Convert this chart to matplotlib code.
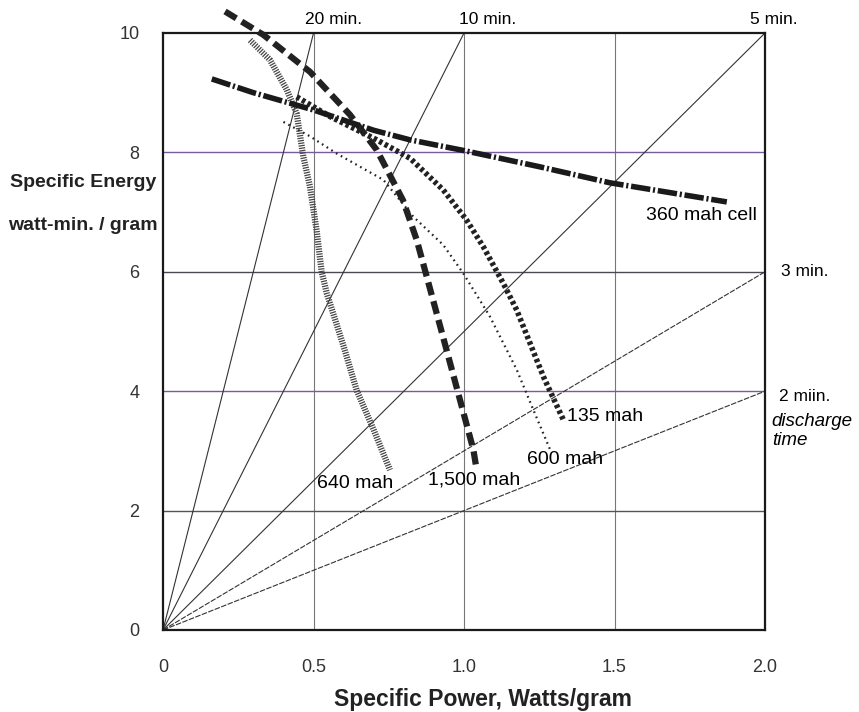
import matplotlib
matplotlib.use("Agg")
import matplotlib.pyplot as plt

plt.rcParams['font.family'] = ['Liberation Sans', 'DejaVu Sans']
plt.rcParams['lines.scale_dashes'] = False

# discharge-time reference lines (minutes), E = P * t
discharge_minutes = [20, 10, 5, 3, 2]
discharge_labels = ["20 min.", "10 min.", "5 min.", "3 min.", "2 miin."]

# cell curves: specific power (W/g) vs specific energy (W-min/g)
cell360_p = [0.162, 0.30, 0.50, 0.70, 0.82, 1.00, 1.25, 1.485, 1.873]
cell360_e = [9.23, 9.00, 8.71, 8.37, 8.21, 8.03, 7.76, 7.49, 7.17]

cell1500_p = [0.206, 0.333, 0.488, 0.621, 0.71, 0.797, 0.843, 0.876, 0.942, 1.031, 1.042]
cell1500_e = [10.36, 9.97, 9.35, 8.63, 8.04, 7.2, 6.53, 5.92, 4.69, 3.02, 2.68]

cell640_p = [0.289, 0.355, 0.411, 0.444, 0.466, 0.488, 0.51, 0.527, 0.544, 0.60, 0.643, 0.70, 0.754]
cell640_e = [9.88, 9.55, 9.05, 8.65, 7.93, 7.43, 6.7, 6.0, 5.64, 4.75, 4.02, 3.35, 2.68]

cell135_p = [0.444, 0.555, 0.71, 0.821, 0.931, 1.008, 1.064, 1.131, 1.175, 1.264, 1.33]
cell135_e = [8.93, 8.6, 8.21, 7.9, 7.37, 6.87, 6.42, 5.8, 5.36, 4.24, 3.52]

cell600_p = [0.40, 0.488, 0.577, 0.732, 0.832, 0.931, 0.998, 1.086, 1.175, 1.23, 1.286]
cell600_e = [8.51, 8.27, 7.98, 7.54, 6.92, 6.45, 5.97, 5.25, 4.36, 3.69, 3.02]

fig = plt.figure(figsize=(8.59, 7.12), dpi=100)
ax = fig.add_axes([0.1898, 0.1152, 0.7008, 0.8385])
ax.set_xlim(0, 2.0)
ax.set_ylim(0, 10)

# grid
for x in [0.5, 1.0, 1.5]:
    ax.axvline(x, color='#777777', lw=0.8, zorder=1)
for y, c in [(2, '#55506a'), (4, '#7a5a9e'), (6, '#4a4a55'), (8, '#7a5a9e')]:
    ax.axhline(y, color=c, lw=1.0, zorder=1)

# discharge time lines
for t in discharge_minutes:
    p_end = min(10.0 / t, 2.0)
    ls = '-' if t >= 5 else (0, (4, 1))
    ax.plot([0, p_end], [0, p_end * t], color='#333333', lw=0.8, ls=ls, zorder=2)

# cell curves
ax.plot(cell640_p, cell640_e, color='#444444', lw=4.5, ls=(0, (0.9, 0.9)),
        dash_capstyle='butt', zorder=3)
ax.plot(cell600_p, cell600_e, color='#222222', lw=1.6, ls=(0, (1.2, 2.8)),
        dash_capstyle='butt', zorder=3)
ax.plot(cell135_p, cell135_e, color='#222222', lw=4.0, ls=(0, (2.5, 2.0)),
        dash_capstyle='butt', zorder=4)
ax.plot(cell1500_p, cell1500_e, color='#222222', lw=4.5, ls=(0, (9.5, 4.5)),
        dash_capstyle='butt', zorder=4, clip_on=False)
ax.plot(cell360_p, cell360_e, color='#1a1a1a', lw=4.0, ls=(0, (14, 2, 1.5, 2)),
        dash_capstyle='butt', zorder=5)

fs = 14
ax.text(1.605, 6.95, "360 mah cell", fontsize=fs, va='center', ha='left')
ax.text(1.342, 3.58, "135 mah", fontsize=fs, va='center', ha='left')
ax.text(1.209, 2.85, "600 mah", fontsize=fs, va='center', ha='left')
ax.text(0.880, 2.51, "1,500 mah", fontsize=fs, va='center', ha='left')
ax.text(0.512, 2.46, "640 mah", fontsize=fs, va='center', ha='left')

# discharge time labels
ax.text(0.568, 10.22, discharge_labels[0], fontsize=12.5, ha='center', va='center', clip_on=False)
ax.text(1.08, 10.22, discharge_labels[1], fontsize=12.5, ha='center', va='center', clip_on=False)
ax.text(2.03, 10.22, discharge_labels[2], fontsize=12.5, ha='center', va='center', clip_on=False)
ax.text(2.053, 6.0, discharge_labels[3], fontsize=12.5, ha='left', va='center', clip_on=False)
ax.text(2.047, 3.91, discharge_labels[4], fontsize=12.5, ha='left', va='center', clip_on=False)
ax.text(2.022, 3.49, "discharge", fontsize=13.5, style='italic', ha='left', va='center', clip_on=False)
ax.text(2.022, 3.18, "time", fontsize=13.5, style='italic', ha='left', va='center', clip_on=False)

# axis titles
ax.text(-0.265, 7.49, "Specific Energy", fontsize=14, fontweight='bold',
        color='#222222', ha='center', va='center', clip_on=False)
ax.text(-0.265, 6.78, "watt-min. / gram", fontsize=14, fontweight='bold',
        color='#222222', ha='center', va='center', clip_on=False)
ax.set_xlabel("Specific Power, Watts/gram", fontsize=16.5, fontweight='bold', color='#222222')
ax.xaxis.set_label_coords(0.532, -0.098)

ax.set_xticks([0, 0.5, 1.0, 1.5, 2.0])
ax.set_xticklabels(["0", "0.5", "1.0", "1.5", "2.0"])
ax.set_yticks([0, 2, 4, 6, 8, 10])
ax.tick_params(axis='both', length=0, labelsize=13, labelcolor='#333333')
ax.tick_params(axis='y', pad=17)
ax.tick_params(axis='x', pad=21)

for s in ax.spines.values():
    s.set_linewidth(1.6)
    s.set_color('#1a1a1a')

fig.savefig("out.png", dpi=100)
